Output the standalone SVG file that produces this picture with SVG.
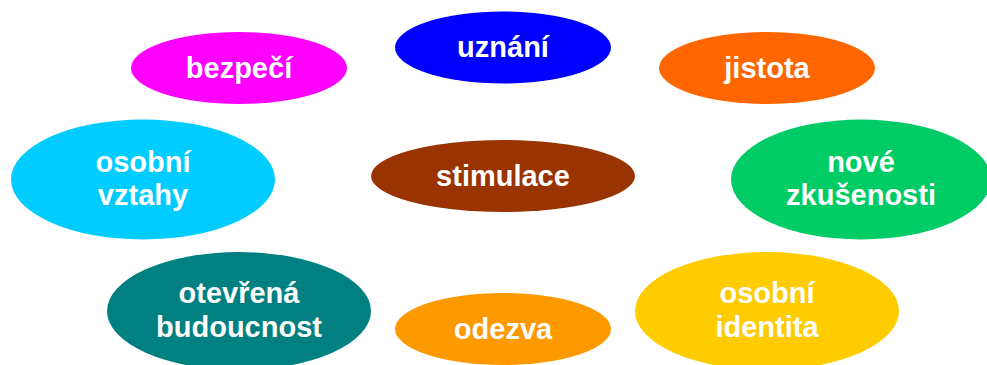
<svg xmlns="http://www.w3.org/2000/svg" width="987" height="365" viewBox="0 0 987 365">
<style>
text{font-family:"Liberation Sans",Arial,sans-serif;font-weight:bold;font-size:29px;fill:#fff;text-anchor:middle}
</style>
<rect width="987" height="365" fill="#fff"/>
<g id="connectors"/>
<g id="uznani"><ellipse cx="503" cy="47.5" rx="108" ry="36" fill="#0000FF"/><text x="503" y="57">uznání</text></g>
<g id="jistota"><ellipse cx="767" cy="68" rx="108" ry="36" fill="#FF6600"/><text x="767" y="78">jistota</text></g>
<g id="bezpeci"><ellipse cx="239" cy="68" rx="108" ry="36" fill="#FF00FF"/><text x="239" y="78">bezpečí</text></g>
<g id="osobni-vztahy"><ellipse cx="143" cy="179.5" rx="132" ry="60" fill="#00CCFF"/><text x="143" y="172">osobní</text><text x="143" y="205">vztahy</text></g>
<g id="stimulace"><ellipse cx="503" cy="176" rx="132" ry="36" fill="#993300"/><text x="503" y="186">stimulace</text></g>
<g id="nove-zkusenosti"><ellipse cx="861" cy="179.5" rx="130" ry="60" fill="#00CC66"/><text x="861" y="172">nové</text><text x="861" y="205">zkušenosti</text></g>
<g id="otevrena-budoucnost"><ellipse cx="239" cy="311" rx="132" ry="59" fill="#008080"/><text x="239" y="303">otevřená</text><text x="239" y="337">budoucnost</text></g>
<g id="odezva"><ellipse cx="503" cy="329" rx="108" ry="36" fill="#FF9900"/><text x="503" y="339">odezva</text></g>
<g id="osobni-identita"><ellipse cx="767" cy="311" rx="132" ry="59" fill="#FFCC00"/><text x="767" y="303">osobní</text><text x="767" y="337">identita</text></g>
</svg>
